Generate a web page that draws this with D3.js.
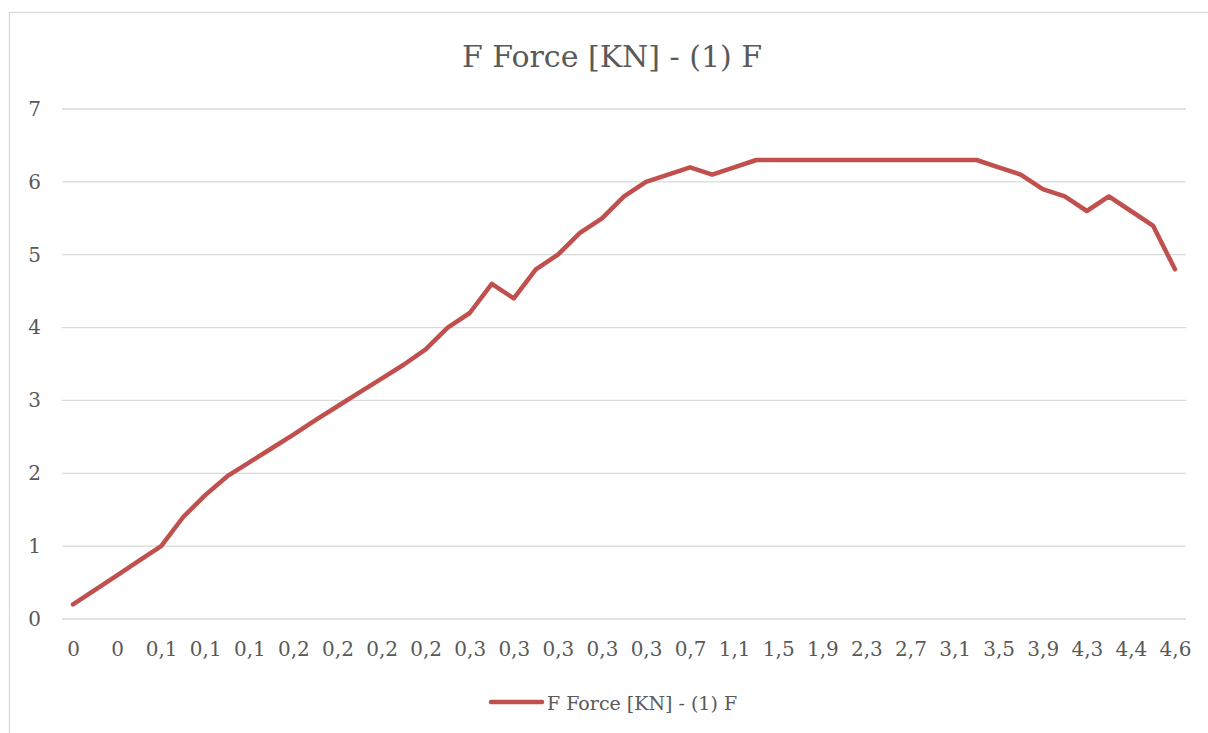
<!DOCTYPE html>
<html lang="en">
<head>
    <meta charset="UTF-8">
    <title>F Force [KN] - (1) F</title>
    <script src="https://d3js.org/d3.v7.min.js"></script>
    <style>
        body {
            margin: 0;
            background-color: #fff;
        }
        svg {
            display: block;
            font-family: "DejaVu Serif", serif;
        }
        .tick text {
            fill: #595959;
        }
    </style>
</head>
<body>
    <div id="chart"></div>

    <script>
        // force readings, one per sample
        const forceValues = [
            0.2, 0.4, 0.6, 0.8, 1.0, 1.4, 1.7, 1.96, 2.15, 2.34,
            2.53, 2.73, 2.92, 3.11, 3.3, 3.49, 3.7, 4.0, 4.2, 4.6,
            4.4, 4.8, 5.0, 5.3, 5.5, 5.8, 6.0, 6.1, 6.2, 6.1,
            6.2, 6.3, 6.3, 6.3, 6.3, 6.3, 6.3, 6.3, 6.3, 6.3,
            6.3, 6.3, 6.2, 6.1, 5.9, 5.8, 5.6, 5.8, 5.6, 5.4,
            4.8
        ];

        // labels shown on the category axis (every second sample)
        const tickLabels = [
            "0", "0", "0,1", "0,1", "0,1", "0,2", "0,2", "0,2", "0,2",
            "0,3", "0,3", "0,3", "0,3", "0,3", "0,7", "1,1", "1,5", "1,9",
            "2,3", "2,7", "3,1", "3,5", "3,9", "4,3", "4,4", "4,6"
        ];

        const yTicks = [0, 1, 2, 3, 4, 5, 6, 7];

        const seriesName = "F Force [KN] - (1) F";
        const lineColor = "#c0504d";

        const width = 1208;
        const height = 733;
        const margin = { top: 109, right: 22, bottom: 114, left: 62 };

        const svg = d3.select("#chart")
            .append("svg")
            .attr("width", width)
            .attr("height", height);

        // chart area border
        svg.append("rect")
            .attr("x", 9.5)
            .attr("y", 12.5)
            .attr("width", 1400)
            .attr("height", 900)
            .attr("fill", "none")
            .attr("stroke", "#d9d9d9")
            .attr("stroke-width", 1.3);

        const x = d3.scalePoint()
            .domain(d3.range(forceValues.length))
            .range([margin.left, width - margin.right])
            .padding(0.5);

        const y = d3.scaleLinear()
            .domain([0, 7])
            .range([height - margin.bottom, margin.top]);

        // horizontal gridlines
        svg.append("g")
            .selectAll("line")
            .data(yTicks)
            .join("line")
            .attr("x1", margin.left)
            .attr("x2", width - margin.right)
            .attr("y1", d => y(d))
            .attr("y2", d => y(d))
            .attr("stroke", "#d9d9d9")
            .attr("stroke-width", 1.3);

        // y axis labels
        const yAxis = svg.append("g")
            .attr("transform", `translate(${margin.left - 21},0)`)
            .call(d3.axisLeft(y).tickValues(yTicks).tickFormat(d3.format("d")).tickSize(0).tickPadding(0));
        yAxis.select(".domain").remove();
        yAxis.selectAll("text")
            .attr("font-size", 20)
            .attr("font-family", "DejaVu Serif");

        // x axis labels
        const shownIdx = d3.range(0, forceValues.length, 2);
        const xAxis = svg.append("g")
            .attr("transform", `translate(0,${height - margin.bottom})`)
            .call(d3.axisBottom(x)
                .tickValues(shownIdx)
                .tickFormat((d, i) => tickLabels[i])
                .tickSize(0)
                .tickPadding(23));
        xAxis.select(".domain").remove();
        xAxis.selectAll("text")
            .attr("font-size", 20)
            .attr("font-family", "DejaVu Serif");

        // series line
        const line = d3.line()
            .x((d, i) => x(i))
            .y(d => y(d));

        svg.append("path")
            .datum(forceValues)
            .attr("fill", "none")
            .attr("stroke", lineColor)
            .attr("stroke-width", 4.5)
            .attr("stroke-linejoin", "round")
            .attr("stroke-linecap", "round")
            .attr("d", line);

        // title
        svg.append("text")
            .attr("x", 612)
            .attr("y", 67)
            .attr("text-anchor", "middle")
            .attr("font-size", 30)
            .attr("fill", "#595959")
            .text(seriesName);

        // legend
        const legend = svg.append("g").attr("transform", "translate(0,702)");
        legend.append("line")
            .attr("x1", 491)
            .attr("x2", 542)
            .attr("stroke", lineColor)
            .attr("stroke-width", 4.5)
            .attr("stroke-linecap", "round");
        legend.append("text")
            .attr("x", 547)
            .attr("y", 8)
            .attr("font-size", 19)
            .attr("fill", "#595959")
            .text(seriesName);
    </script>
</body>
</html>
